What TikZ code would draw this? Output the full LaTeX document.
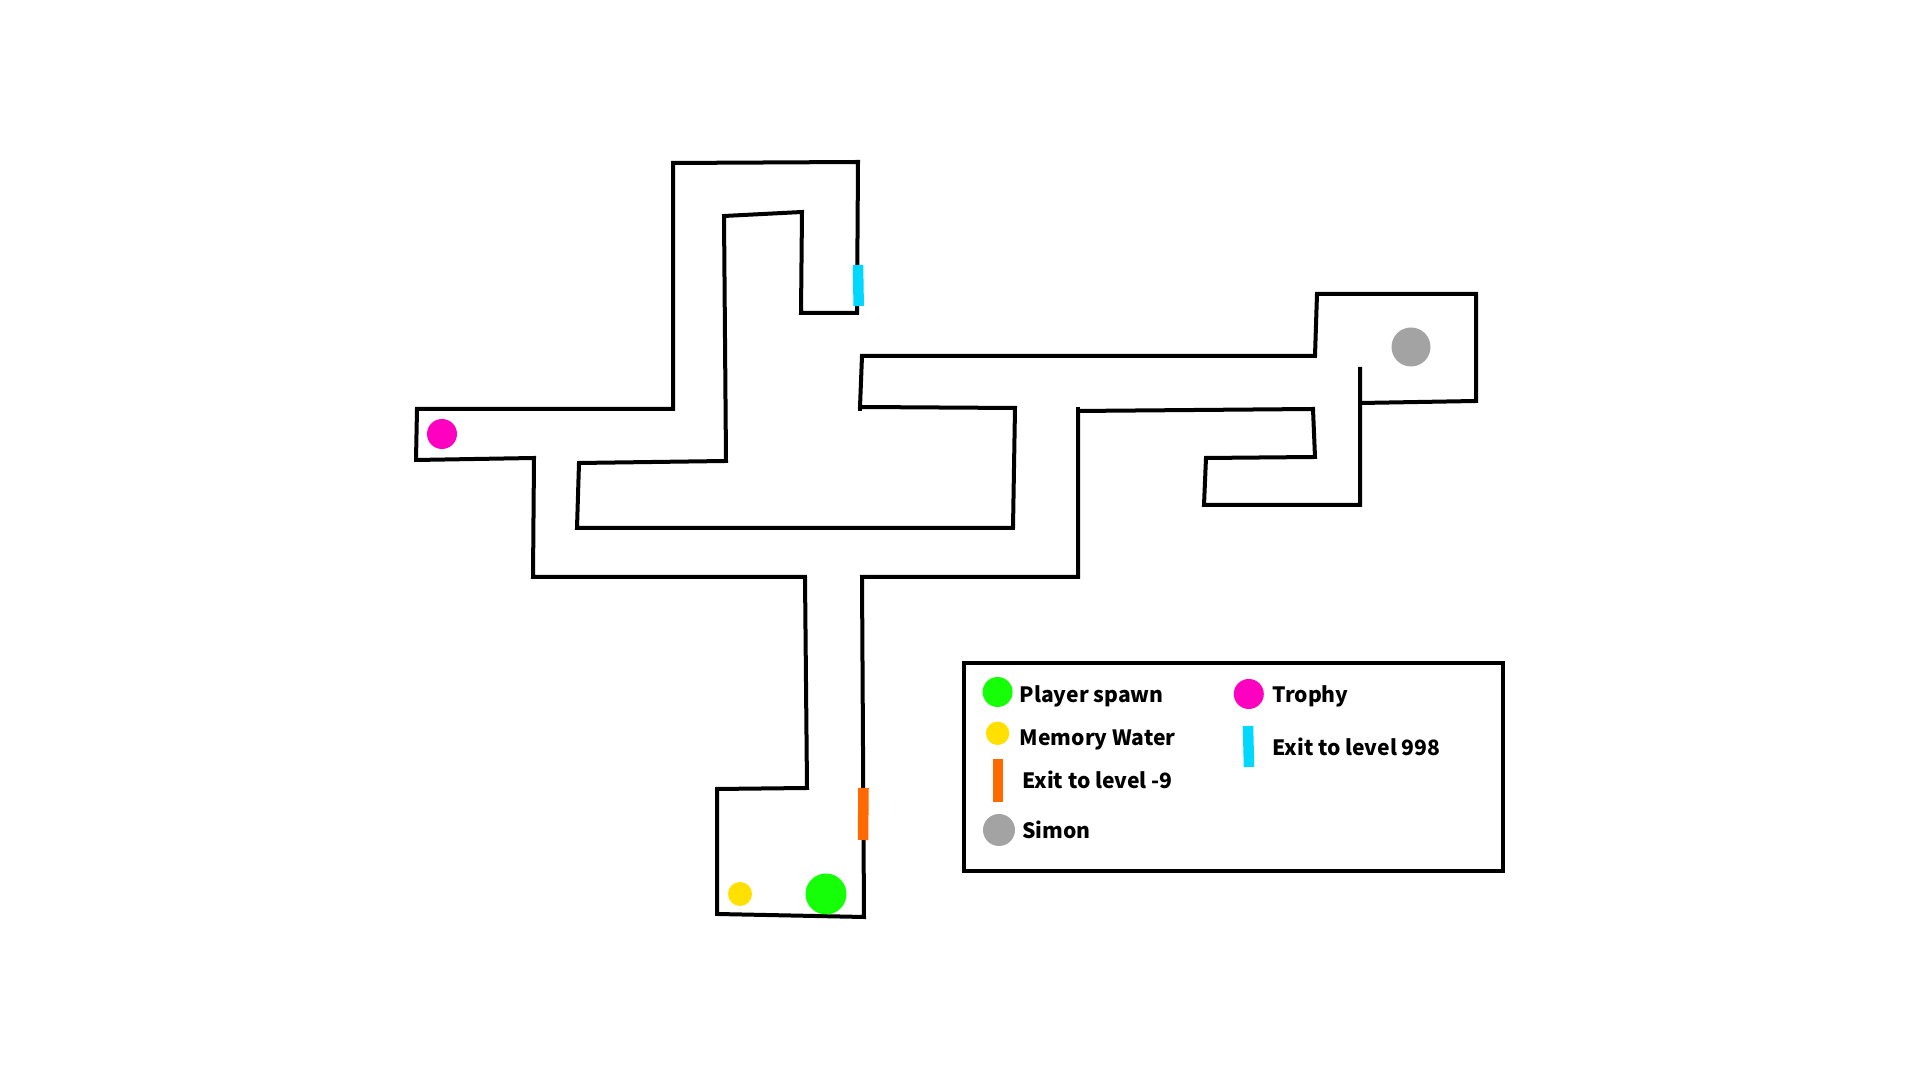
\documentclass[tikz,border=0pt]{standalone}
\usepackage{fontspec}
\setmainfont{Noto Sans CJK SC}
\definecolor{cgreen}{HTML}{15FF08}
\definecolor{cyellow}{HTML}{FFE000}
\definecolor{cmagenta}{HTML}{FF00C0}
\definecolor{cgray}{HTML}{A3A3A3}
\definecolor{cblue}{HTML}{00D8FF}
\definecolor{corange}{HTML}{FF6A00}
\tikzset{
  wall/.style={draw=black,line width=0.04cm,line join=miter},
  legendbox/.style={draw=black,line width=0.042cm},
  exitbar/.style={line width=0.105cm,draw=#1},
  lab/.style={anchor=base west,inner sep=0pt,font=\bfseries\fontsize{6pt}{7pt}\selectfont,text=black}
}
\begin{document}
\begin{tikzpicture}[x=0.01cm,y=-0.01cm]
\useasboundingbox (0,0) rectangle (1920,1080);
\fill[white] (0,0) rectangle (1920,1080);
% maze walls
\draw[wall] (416,460) -- (417,409) -- (673,409) -- (673,163) -- (858,162) -- (857,313) -- (801,313) -- (802,212) -- (724,216) -- (726,461) -- (579,463) -- (577,528) -- (1013,528) -- (1015,408) -- (860,407) -- (862,356) -- (1315,356) -- (1317,294) -- (1476,294) -- (1476,401) -- (1361,403);
\draw[wall] (1360,367) -- (1360,505) -- (1204,505) -- (1206,458) -- (1315,457) -- (1313,409) -- (1078,411) -- (1078,577) -- (862,577) -- (864,917) -- (717,914) -- (717,789) -- (807,788) -- (805,577) -- (533,577) -- (534,458) -- (416,460);
% small overshoots at the hand-drawn corners
\draw[wall] (534,461) -- (534,456);
\draw[wall] (1078,413) -- (1078,407);
\draw[wall] (860,405) -- (860,411);
\draw[wall] (416,458) -- (416,462);
\draw[wall] (533,575) -- (533,579);
% map items
\draw[exitbar=cblue] (858,265) -- (858.7,306);
\draw[exitbar=corange] (863.5,788) -- (863,840);
\fill[cyellow] (740,894) circle (12);
\fill[cgreen] (826,894) circle (20.5);
\fill[cmagenta] (442,434) circle (15);
\fill[cgray] (1411,347) circle (19.5);
% legend
\draw[legendbox] (964,663) rectangle (1503,871);
\fill[cgreen] (997.6,692) circle (15);
\fill[cyellow] (997.6,733.3) circle (11.7);
\draw[exitbar=corange] (998,759.5) -- (998,802.5);
\fill[cgray] (999,830) circle (16);
\fill[cmagenta] (1248.8,694) circle (15);
\draw[exitbar=cblue] (1248,726) -- (1249,767);
\node[lab] (l1) at (1019,702.7) {Player spawn};
\node[lab] (l2) at (1019,746) {Memory Water};
\node[lab] (l3) at (1021.7,788.7) {Exit to level -9};
\node[lab] (l4) at (1021.7,839) {Simon};
\node[lab] (l5) at (1271.8,702.7) {Trophy};
\node[lab] (l6) at (1271.8,756) {Exit to level 998};
\end{tikzpicture}
\end{document}
